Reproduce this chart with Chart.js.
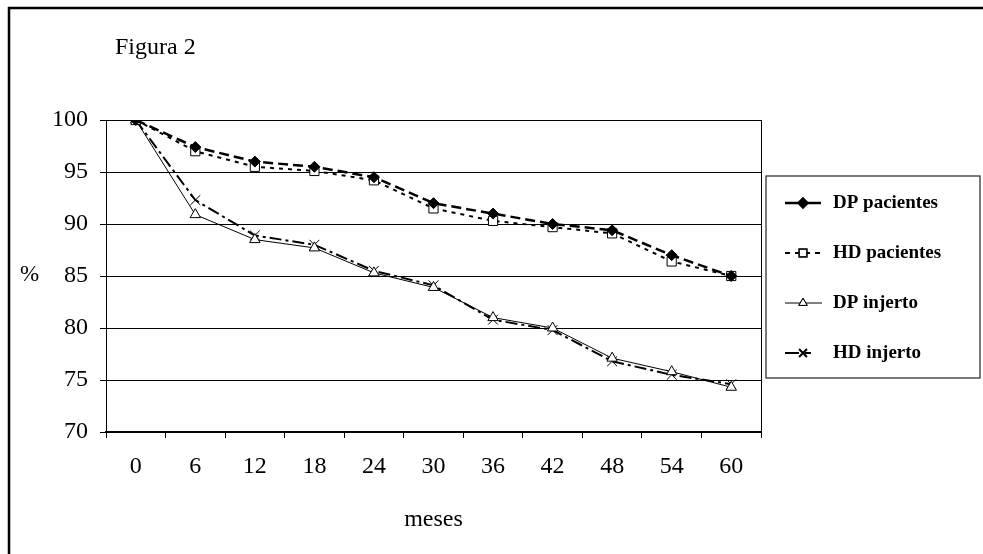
<!DOCTYPE html>
<html lang="es">
<head>
<meta charset="UTF-8">
<script src="https://cdn.jsdelivr.net/npm/chart.js"></script>
<title>Figura 2</title>
<style>
  html, body { margin: 0; padding: 0; background: #fff; }
</style>
</head>
<body>
<canvas id="figura2" width="983" height="554"></canvas>
<script>
// meses de seguimiento
const meses = ['0', '6', '12', '18', '24', '30', '36', '42', '48', '54', '60'];

// supervivencia (%)
const dpPacientes = [100, 97.4, 96.0, 95.5, 94.5, 92.0, 91.0, 90.0, 89.4, 87.0, 85.0];
const hdPacientes = [100, 97.0, 95.5, 95.1, 94.2, 91.5, 90.3, 89.7, 89.1, 86.4, 85.0];
const dpInjerto   = [100, 90.9, 88.5, 87.7, 85.3, 83.9, 81.0, 80.0, 77.1, 75.8, 74.3];
const hdInjerto   = [100, 92.3, 88.9, 88.0, 85.5, 84.1, 80.8, 79.8, 76.8, 75.5, 74.6];

const yTicks = [70, 75, 80, 85, 90, 95, 100];

const serif = '"Liberation Serif", "Times New Roman", serif';

// marco, rótulos sueltos y leyenda con recuadro
const figuraPlugin = {
    id: 'figura',
    beforeDraw(chart) {
        const ctx = chart.ctx;
        ctx.save();
        ctx.fillStyle = '#fff';
        ctx.fillRect(0, 0, chart.width, chart.height);
        ctx.strokeStyle = '#000';
        ctx.lineWidth = 2.5;
        ctx.beginPath();
        ctx.moveTo(9, chart.height);
        ctx.lineTo(9, 8);
        ctx.lineTo(chart.width, 8);
        ctx.stroke();

        ctx.fillStyle = '#000';
        ctx.font = '24px ' + serif;
        ctx.textBaseline = 'middle';
        ctx.textAlign = 'left';
        ctx.fillText('Figura 2', 115, 48);
        ctx.font = '23px ' + serif;
        ctx.fillText('%', 20, 275);
        ctx.restore();
    },
    beforeDatasetsDraw(chart) {
        const ctx = chart.ctx;
        const a = chart.chartArea;
        ctx.save();
        ctx.strokeStyle = '#000';
        ctx.lineWidth = 1;
        ctx.beginPath();
        ctx.moveTo(Math.round(a.right) + 0.5, a.top);
        ctx.lineTo(Math.round(a.right) + 0.5, a.bottom);
        ctx.stroke();
        ctx.restore();
    },
    afterDraw(chart) {
        const ctx = chart.ctx;
        ctx.save();
        ctx.strokeStyle = '#222';
        ctx.lineWidth = 1.2;
        ctx.strokeRect(766, 176, 214, 202);

        const rowsY = [203, 253, 303, 353];
        chart.data.datasets.forEach((ds, i) => {
            const y = rowsY[i];
            ctx.strokeStyle = '#000';
            ctx.lineWidth = ds.borderWidth;
            ctx.setLineDash(ds.legendDash || ds.borderDash || []);
            ctx.beginPath();
            ctx.moveTo(785, y);
            ctx.lineTo(822, y);
            ctx.stroke();
            ctx.setLineDash([]);
            Chart.helpers.drawPoint(ctx, {
                pointStyle: ds.pointStyle,
                radius: ds.pointRadius * 0.8,
                borderWidth: ds.pointBorderWidth,
                rotation: 0
            }, 803, y);
            ctx.fillStyle = ds.pointBackgroundColor;
            ctx.strokeStyle = '#000';
            ctx.lineWidth = ds.pointBorderWidth;
            ctx.fill();
            ctx.stroke();

            ctx.fillStyle = '#000';
            ctx.font = 'bold 19px ' + serif;
            ctx.textBaseline = 'middle';
            ctx.textAlign = 'left';
            ctx.fillText(ds.label, 833, y);
        });
        ctx.restore();
    }
};

new Chart(document.getElementById('figura2'), {
    type: 'line',
    data: {
        labels: meses,
        datasets: [
            {
                label: 'DP pacientes',
                data: dpPacientes,
                borderColor: '#000',
                borderWidth: 2.5,
                borderDash: [10, 5],
                legendDash: [14, 8],
                pointStyle: 'rectRot',
                pointRadius: 5.5,
                pointBackgroundColor: '#000',
                pointBorderColor: '#000',
                pointBorderWidth: 1,
                tension: 0
            },
            {
                label: 'HD pacientes',
                data: hdPacientes,
                borderColor: '#000',
                borderWidth: 2,
                borderDash: [4, 5],
                legendDash: [5, 5],
                pointStyle: 'rect',
                pointRadius: 6.5,
                pointBackgroundColor: '#fff',
                pointBorderColor: '#000',
                pointBorderWidth: 1,
                tension: 0
            },
            {
                label: 'DP injerto',
                data: dpInjerto,
                borderColor: '#000',
                borderWidth: 1,
                borderDash: [],
                pointStyle: 'triangle',
                pointRadius: 6,
                pointBackgroundColor: '#fff',
                pointBorderColor: '#000',
                pointBorderWidth: 1,
                tension: 0
            },
            {
                label: 'HD injerto',
                data: hdInjerto,
                borderColor: '#000',
                borderWidth: 2,
                borderDash: [12, 4, 3, 4],
                legendDash: [14, 6, 6, 20],
                pointStyle: 'crossRot',
                pointRadius: 7,
                pointBackgroundColor: '#000',
                pointBorderColor: '#000',
                pointBorderWidth: 1,
                tension: 0
            }
        ]
    },
    options: {
        responsive: false,
        devicePixelRatio: 1,
        animation: false,
        layout: { padding: { left: 0, right: 222, top: 120, bottom: 0 } },
        plugins: {
            legend: { display: false },
            tooltip: { enabled: false },
            title: { display: false }
        },
        scales: {
            x: {
                type: 'category',
                offset: true,
                afterFit: s => { s.height = 122; },
                grid: {
                    offset: true,
                    drawOnChartArea: false,
                    drawTicks: true,
                    tickLength: 6,
                    color: '#000',
                    lineWidth: 1
                },
                border: { display: true, color: '#000', width: 2 },
                ticks: {
                    color: '#000',
                    font: { family: serif, size: 24 },
                    padding: 14,
                    maxRotation: 0,
                    autoSkip: false
                },
                title: {
                    display: true,
                    text: 'meses',
                    color: '#000',
                    font: { family: serif, size: 24 },
                    padding: { top: 0, bottom: 20 }
                }
            },
            y: {
                min: 70,
                max: 100,
                afterFit: s => { s.width = 106; },
                afterBuildTicks: s => { s.ticks = yTicks.map(v => ({ value: v })); },
                grid: {
                    color: '#000',
                    lineWidth: 1,
                    drawTicks: true,
                    tickLength: 6
                },
                border: { display: true, color: '#000', width: 1 },
                ticks: {
                    color: '#000',
                    font: { family: serif, size: 24 },
                    padding: 12
                }
            }
        }
    },
    plugins: [figuraPlugin]
});
</script>
</body>
</html>
